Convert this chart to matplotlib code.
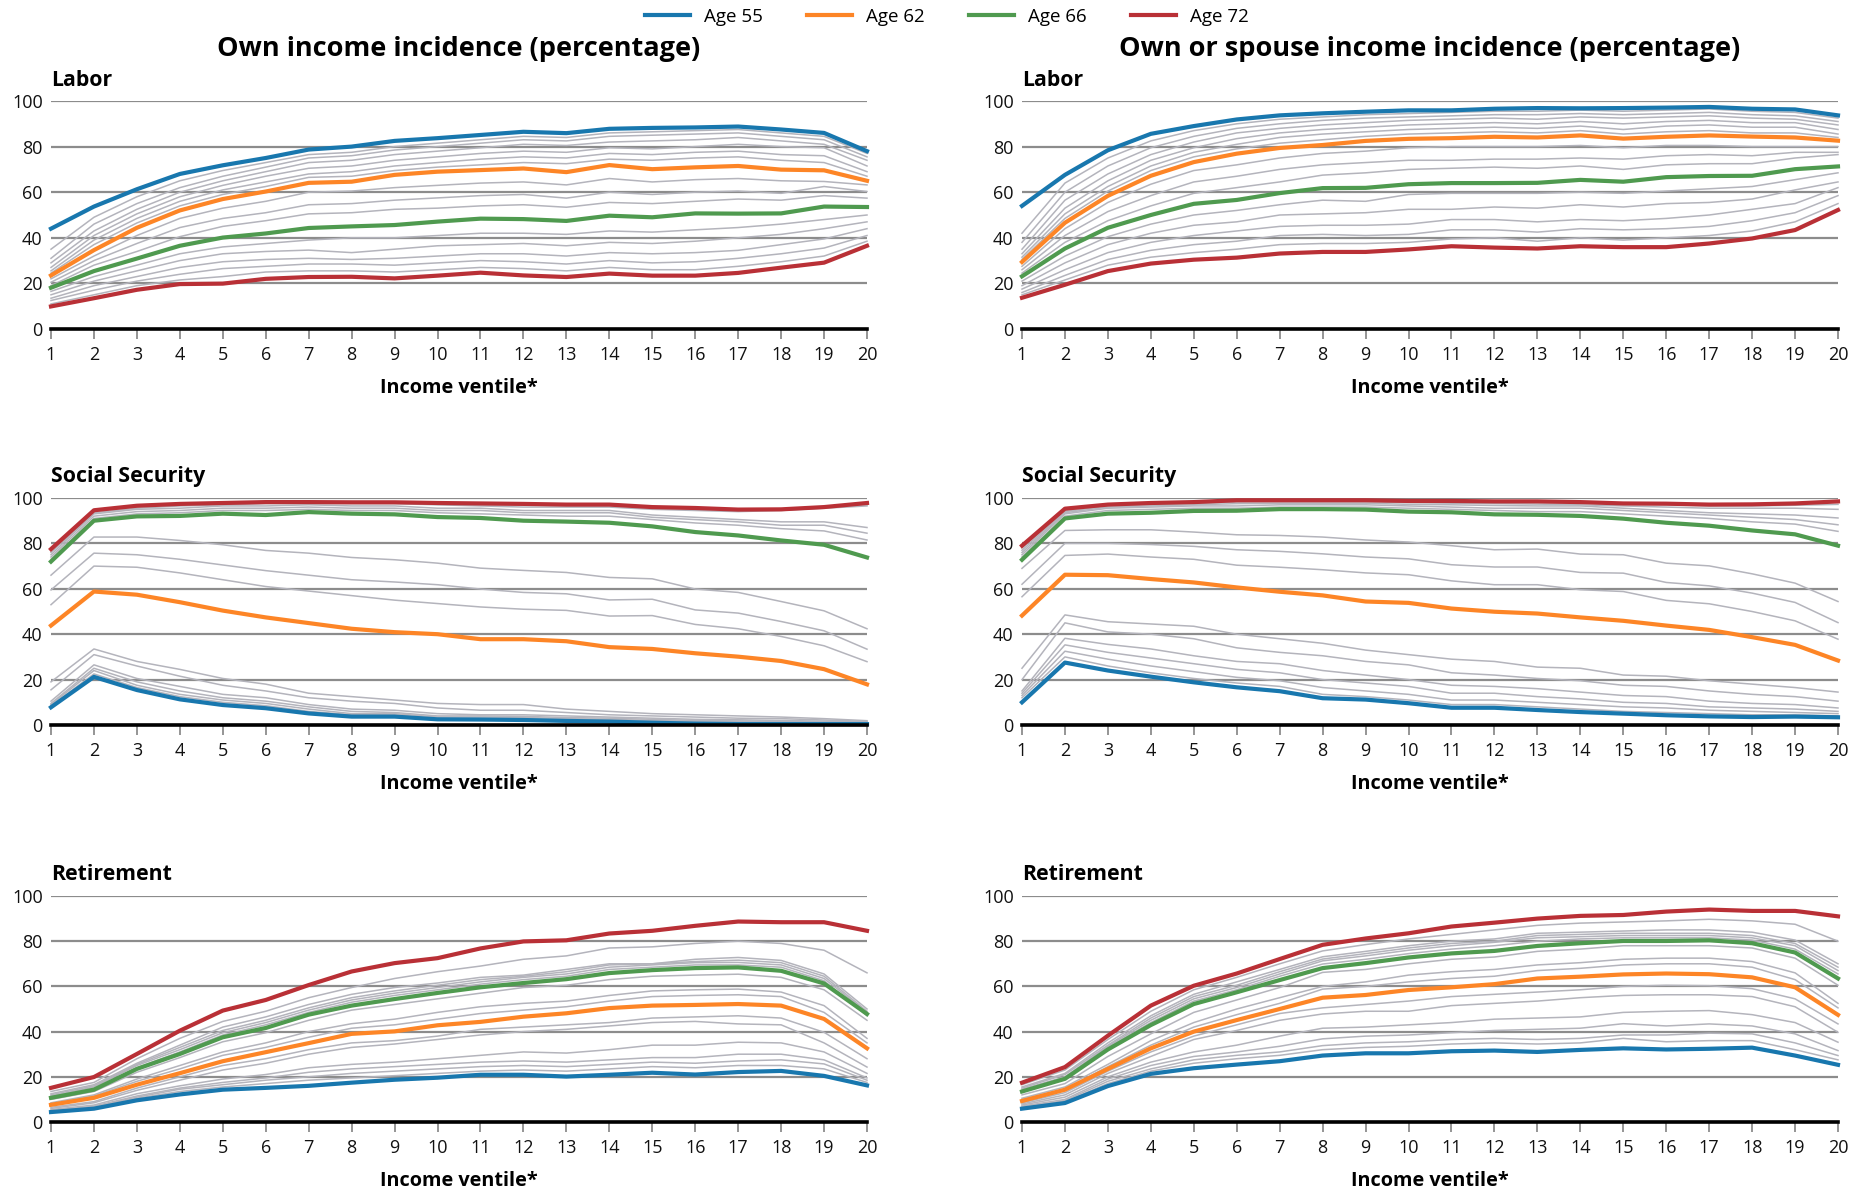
import matplotlib
matplotlib.use("Agg")
import matplotlib.pyplot as plt
from matplotlib.lines import Line2D

plt.rcParams['font.family'] = ['Open Sans', 'DejaVu Sans']

ventiles = list(range(1, 21))
ages = [55, 56, 57, 58, 59, 60, 61, 62, 63, 64, 65, 66, 67, 68, 69, 70, 71, 72]
highlight_ages = [55, 62, 66, 72]
highlight_colors = ['#1877ae', '#fd8526', '#4f9a4f', '#b93036']
gray_color = '#b4b4bc'

col_titles = ['Own income incidence (percentage)', 'Own or spouse income incidence (percentage)']
row_titles = ['Labor', 'Social Security', 'Retirement']
x_label = 'Income ventile*'

# ---- Own income: Labor (rows = ages 55..72) ----
own_labor = [
    [44, 53.7, 61.3, 68, 71.8, 75, 78.7, 80, 82.5, 83.7, 85.1, 86.5, 85.9, 87.8, 88.2, 88.4, 88.8, 87.5, 86, 78],
    [35, 49, 58, 65, 69.5, 73, 76.5, 77.5, 80, 81.5, 83, 84.5, 84, 86, 86.5, 87, 87.5, 86, 84.5, 77],
    [31, 46, 55, 62, 67, 71, 75, 76, 78.5, 80, 81.5, 83, 82.5, 84.5, 85, 85.5, 86, 84.5, 83, 75.5],
    [29, 43, 52.5, 60, 65, 69, 73, 74, 76.5, 78, 79.5, 81, 80.5, 82, 82.5, 83, 84, 82.5, 81, 74],
    [27, 41, 50.5, 58, 63, 67, 70.5, 71.5, 74, 75.5, 77, 78, 77.5, 79.5, 79, 80, 81, 80, 79.5, 71.5],
    [25.5, 39, 48.5, 56, 61, 64.5, 68, 69, 71.5, 73, 74.5, 75.5, 75, 77, 76.5, 77.5, 78, 76.5, 76, 69],
    [24.5, 37, 46.5, 54, 59, 62.5, 66.5, 67, 69.5, 71, 72, 73, 72.5, 74.5, 74, 75, 75.5, 74, 73, 67],
    [23.5, 34.6, 44.4, 52, 57, 60.3, 64.1, 64.6, 67.6, 69, 69.7, 70.4, 68.8, 71.9, 70.1, 70.9, 71.5, 69.9, 69.6, 65],
    [22, 32, 41, 48.5, 53, 56, 60, 60.5, 62, 63, 64, 64.5, 63.2, 66, 64.5, 65.5, 66, 65, 64.7, 63.2],
    [20.5, 30, 37.5, 44.5, 48.5, 51, 54.5, 55, 56.5, 57.5, 58.5, 59, 57.4, 60, 59, 60, 60.5, 59.5, 62.5, 60.3],
    [19, 28, 34, 40.5, 45, 47.5, 50.5, 51, 52.5, 53, 54, 54.5, 53.4, 55.5, 55, 56, 57, 56.5, 58.5, 57.4],
    [18.1, 25.4, 30.9, 36.5, 40.1, 41.9, 44.3, 45, 45.6, 47.1, 48.4, 48.2, 47.4, 49.7, 49, 50.7, 50.6, 50.7, 53.7, 53.5],
    [16.5, 23, 28, 33, 36, 37.5, 39, 40, 40, 41, 42, 42, 41.5, 43, 42.5, 43.5, 44.5, 46, 48, 50],
    [15, 21, 25.5, 30, 33, 34, 34.6, 33.5, 35, 36.5, 37, 37.5, 36.5, 38, 37.5, 38.5, 40, 41.5, 44, 47],
    [13.5, 19, 23, 27, 29.5, 30.5, 31, 30.5, 31, 32, 33, 33, 32, 33.5, 33, 33.5, 34.5, 37, 39.5, 44],
    [12.5, 17, 21, 24, 26.5, 27.5, 28.5, 28.5, 28, 29, 30, 29.5, 28.5, 30, 29, 29.5, 31, 33, 35.5, 41],
    [11, 15, 19, 21.5, 23, 25, 25.5, 25.5, 25, 26, 27, 26.5, 25.5, 27, 26, 26, 27.5, 29.5, 32, 38.5],
    [9.9, 13.5, 17.2, 19.7, 19.9, 22, 22.8, 22.9, 22.2, 23.4, 24.7, 23.5, 22.8, 24.3, 23.4, 23.4, 24.6, 26.9, 29.1, 36.5],
]

# ---- Own or spouse income: Labor ----
spouse_labor = [
    [54, 67.6, 78.4, 85.6, 89, 91.9, 93.7, 94.6, 95.3, 95.9, 95.9, 96.6, 96.9, 96.8, 96.9, 97.1, 97.4, 96.6, 96.3, 93.7],
    [42, 64, 75, 82.5, 87, 90, 92, 93, 94, 94.5, 95, 95.5, 95.5, 96, 95.5, 96, 96.5, 95.5, 95, 92.5],
    [38, 60, 71.5, 79.5, 84.5, 88, 90, 91.5, 92.5, 93, 93.5, 94, 94, 94.5, 94, 94.5, 95, 94, 93.5, 91],
    [35, 56.5, 68, 76.5, 82, 86, 88, 89.5, 90.5, 91.5, 92, 92.5, 92, 93, 92.5, 93, 93.5, 92.5, 92, 89.5],
    [33, 53, 65, 74, 79.5, 83.5, 86, 87.5, 88.5, 89.5, 90, 90.5, 90, 91, 90, 91, 91.5, 90.5, 90.5, 87.5],
    [31.5, 50.5, 62.5, 71.5, 77.5, 81, 84, 85.5, 86.5, 87.5, 88, 88.5, 88, 89, 87.5, 89, 89.5, 88.5, 88.5, 85.5],
    [30.5, 48.5, 60.5, 69.5, 75.5, 79, 81.5, 83, 84.5, 85.5, 86, 86.5, 86, 87, 85.5, 86.5, 87, 86, 86, 84],
    [29.4, 46.6, 58.4, 67.2, 73.2, 76.9, 79.4, 80.7, 82.5, 83.4, 83.7, 84.3, 84, 84.9, 83.5, 84.3, 84.9, 84.4, 84, 82.6],
    [27.5, 44, 55.5, 63.5, 69.5, 72, 75, 77, 78, 79.5, 80, 80, 80, 80.5, 79.5, 80.5, 80.5, 80, 80, 80],
    [26, 41, 51.5, 58.5, 64.5, 67, 70, 72, 73, 74, 74, 74.5, 74.5, 75, 74.5, 76, 76.5, 76, 77.5, 77.5],
    [24.5, 38, 47.5, 54, 59.5, 62, 64.5, 67.5, 68.5, 70, 70.5, 71, 70.5, 71.5, 70, 72, 72.5, 72.5, 75, 76.5],
    [23.1, 35.3, 44.4, 50, 54.9, 56.6, 59.6, 61.8, 61.9, 63.5, 64, 64, 64.1, 65.4, 64.6, 66.6, 67.1, 67.2, 70.1, 71.3],
    [21, 32, 40.5, 46, 50, 52, 54.5, 56.5, 56, 59, 59.5, 59.5, 59.5, 60, 59.5, 60.5, 61.5, 62.5, 65.5, 68.5],
    [19, 29, 37, 42, 45.5, 47, 50, 50.5, 51, 52.5, 52.5, 53.5, 53, 54.5, 53.5, 55, 55.5, 57, 61, 64.5],
    [17.5, 26, 33.5, 38, 41, 43, 45, 45.5, 45.5, 46, 48, 48, 47, 48, 47.5, 48.5, 50, 52.5, 55, 62],
    [16, 23.5, 30.5, 34.5, 37, 38.5, 41, 41.5, 41, 41.5, 43.5, 43.5, 42.5, 44, 43.5, 44, 45, 47.5, 51, 58.5],
    [15, 21.5, 28, 31.5, 33.5, 35, 37, 37.5, 37.5, 38, 39.5, 40, 38.5, 40, 39, 40, 41, 43, 47, 55],
    [13.7, 19.4, 25.4, 28.7, 30.4, 31.3, 33.1, 33.8, 33.8, 34.9, 36.3, 35.7, 35.3, 36.3, 35.9, 35.9, 37.5, 39.7, 43.4, 52.2],
]

# ---- Own income: Social Security ----
own_ss = [
    [7.8, 21.2, 15.4, 11.3, 8.8, 7.4, 5.1, 3.7, 3.7, 2.5, 2.4, 2.2, 1.8, 1.5, 1, 0.6, 0.4, 0.4, 0.4, 0.4],
    [8.5, 22.5, 16.5, 12.5, 10, 8.5, 6, 4.5, 4.5, 3, 3, 2.8, 2.4, 2, 1.5, 1.2, 1, 0.8, 0.7, 0.6],
    [9, 24, 17.5, 13.5, 11, 9.5, 7, 5, 5, 3.5, 3.5, 3.3, 2.8, 2.5, 2, 1.6, 1.4, 1.2, 1, 0.8],
    [9.5, 25, 19, 15, 12, 10.5, 8, 6, 5.5, 4, 4, 3.8, 3.3, 3, 2.5, 2, 1.8, 1.6, 1.3, 1],
    [10.5, 26.5, 20.5, 17, 13.5, 12, 9, 7, 6.5, 5, 4.5, 4.5, 4, 3.5, 3, 2.5, 2.3, 2, 1.7, 1.3],
    [15.5, 31, 26, 21.5, 17.5, 15, 12, 10.5, 9.5, 7.5, 6.5, 6.5, 5.5, 4.5, 4, 3.5, 3, 2.8, 2.2, 1.6],
    [19, 33.5, 28, 24.5, 20.5, 18, 14, 12.5, 11, 9.5, 9, 9, 7, 6, 5, 4.5, 4, 3.5, 2.8, 1.9],
    [43.8, 58.8, 57.4, 54.1, 50.4, 47.4, 44.9, 42.4, 40.9, 40, 37.8, 37.8, 36.9, 34.3, 33.5, 31.6, 30.1, 28.2, 24.6, 17.9],
    [53, 70, 69.5, 67, 64, 61, 59, 57, 55, 53.5, 52, 51, 50.5, 48, 48.2, 44.3, 42.4, 39, 34.9, 27.9],
    [59.5, 75.7, 75, 73, 70.5, 68, 66, 64, 63, 61.8, 59.9, 58.4, 57.8, 55.1, 55.4, 50.7, 49.3, 45.6, 41.5, 33.4],
    [66, 82.8, 82.8, 81.3, 79.4, 76.9, 75.7, 73.8, 72.8, 71.3, 69.1, 68.1, 67.2, 65, 64.4, 59.9, 58.4, 54.4, 50.3, 42.4],
    [72, 90, 91.9, 92.1, 93.1, 92.5, 93.8, 93.1, 92.8, 91.6, 91.2, 90, 89.6, 89.1, 87.5, 85, 83.5, 81.3, 79.4, 73.8],
    [73, 91, 93, 93.5, 94.5, 94.5, 95, 94.5, 94.5, 93.5, 93, 92.5, 92, 92, 90.5, 89, 88, 86.5, 85.5, 81.5],
    [74, 92, 94, 94.5, 95.5, 95.5, 96, 95.5, 95.5, 94.5, 94.5, 93.5, 93.5, 93.5, 91.5, 90.5, 89.5, 88, 88, 84.5],
    [75, 93, 95, 95.5, 96.5, 96.5, 97, 96.5, 96.5, 95.5, 95.5, 94.5, 94.5, 94.5, 92.5, 91.5, 90.5, 89.5, 89.5, 87],
    [76, 93.5, 95.5, 96.5, 97, 97.5, 97.5, 97.5, 97.5, 97, 96.5, 96, 96, 96, 95, 94.5, 94, 94.5, 95.5, 96.5],
    [77, 94, 96, 97, 97.5, 98, 98, 98, 98, 97.5, 97, 97, 96.5, 96.5, 95.5, 95, 94.5, 95, 96, 97],
    [77.5, 94.6, 96.6, 97.4, 97.8, 98.2, 98.2, 98.1, 98.1, 97.8, 97.6, 97.4, 97.1, 97.1, 96, 95.6, 94.9, 95, 96, 97.8],
]

# ---- Own or spouse income: Social Security ----
spouse_ss = [
    [10, 27.5, 24, 21.3, 18.8, 16.6, 14.9, 11.8, 11.2, 9.6, 7.6, 7.6, 6.6, 5.7, 5, 4.3, 3.8, 3.5, 3.7, 3.4],
    [12, 30, 26, 23, 20.5, 18.5, 17, 13.5, 12.5, 11, 9, 9, 8, 7, 6, 5.5, 5, 4.5, 4.5, 4],
    [13, 32.5, 29, 26, 23.5, 21, 19.5, 16.5, 15, 13.5, 11, 11, 10, 9, 8, 7.5, 6.5, 6, 5.5, 5],
    [14, 35.3, 32, 29.5, 27, 24.5, 23, 20, 18.5, 17, 14, 14, 12.5, 11.5, 10, 9.5, 8, 7.5, 7, 6],
    [15, 38.2, 35.5, 33.5, 30.5, 28, 27, 24, 22, 20, 17.5, 17, 16, 14.5, 13, 12.5, 10.5, 9.5, 9, 7.5],
    [20, 45, 41, 40, 38, 34, 32, 30.5, 28, 26.5, 23, 22, 20.5, 19.5, 17.5, 17, 15, 13.5, 12.5, 10.5],
    [25, 48.5, 45.5, 44.5, 43.5, 40, 38, 36, 33, 31, 29, 28, 25.5, 25, 22, 21.5, 19.5, 18, 16.5, 14.5],
    [48.2, 66.2, 66, 64.3, 62.8, 60.6, 58.7, 57.1, 54.4, 53.8, 51.3, 49.9, 49.1, 47.4, 45.9, 43.8, 41.9, 38.7, 35.3, 28.4],
    [56.5, 74.7, 75.3, 74, 73, 70.4, 69.5, 68.4, 67, 66.2, 63.5, 61.8, 61.8, 59.6, 58.8, 54.9, 53.4, 50, 45.9, 37.8],
    [62, 80, 80, 79.5, 78.7, 77.2, 76.5, 75.4, 74, 73.2, 70.6, 69.6, 69.6, 67.2, 66.9, 62.8, 61.3, 58.1, 54, 45.1],
    [69, 85.7, 86, 86, 85, 83.8, 83.5, 82.8, 81.5, 80.6, 79, 77.2, 77.5, 75.3, 75, 71.3, 70.1, 66.6, 62.5, 54.4],
    [72.8, 91, 93.1, 93.5, 94.3, 94.4, 95.1, 95.1, 94.9, 94, 93.7, 92.8, 92.6, 92.1, 90.9, 89.1, 87.8, 85.7, 84, 79],
    [74, 92, 94.5, 95, 95.5, 95.5, 96, 96, 96, 95.5, 95, 94.5, 94, 94, 93, 92, 91, 89.5, 88.5, 85.3],
    [75, 93, 95.5, 96, 96.5, 96.5, 97, 97, 97, 96.5, 96, 95.5, 95.5, 95.5, 94.5, 93.5, 92.5, 91.5, 90.5, 88.2],
    [76, 93.5, 96, 96.5, 97, 97.5, 97.7, 97.7, 97.7, 97.2, 97, 96.7, 96.5, 96.5, 95.5, 94.5, 93.5, 93, 92.5, 91.2],
    [77, 94, 96.5, 97, 97.5, 98.2, 98.3, 98.3, 98.3, 98, 97.7, 97.5, 97.3, 97, 96.5, 96, 95.5, 95.5, 95.5, 95],
    [78, 94.5, 96.8, 97.5, 98, 98.6, 98.7, 98.7, 98.7, 98.4, 98.2, 98, 98, 97.7, 97.2, 97, 96.5, 96.5, 96.8, 97.2],
    [79, 95.3, 97.1, 97.8, 98.2, 99, 99, 99, 99, 98.7, 98.7, 98.5, 98.5, 98.2, 97.6, 97.5, 97.1, 97.2, 97.6, 98.5],
]

# ---- Own income: Retirement ----
own_ret = [
    [4.4, 5.9, 9.6, 12.2, 14.3, 15.1, 16, 17.4, 18.7, 19.6, 20.9, 20.9, 20.1, 20.9, 21.8, 21, 22.1, 22.6, 20.4, 16.2],
    [4.6, 6.3, 10.5, 13.5, 15.5, 17, 18.5, 19.5, 20.5, 21.5, 22.5, 23, 22.5, 23.5, 24.5, 24, 25, 25, 23.5, 17.5],
    [4.8, 6.6, 11, 14.5, 16.5, 18.5, 20, 21.5, 22.5, 23.5, 24.5, 25, 24.5, 25.5, 26.5, 26, 27, 27.5, 25.7, 18.5],
    [5, 7, 11.5, 15, 17.5, 19.5, 22, 23.5, 24.5, 25.5, 26.5, 27, 26.5, 27.5, 28.5, 28.5, 30, 30, 27.5, 19.5],
    [5.5, 7.5, 12.5, 16, 19, 21, 24, 25.5, 26.5, 28, 29.5, 31, 30.5, 32, 34, 34, 35.3, 35, 31, 21.5],
    [6, 8.5, 14, 18.5, 23, 26, 30, 33, 34.5, 36.5, 38.5, 40, 41, 42.5, 44, 44.5, 43.4, 43, 35, 24.3],
    [6.5, 9, 15, 20, 25, 28, 32, 35, 36, 38, 41, 42, 43, 44, 46, 46.5, 47, 46, 39.7, 28],
    [7.6, 10.7, 16.5, 21.6, 26.9, 30.9, 34.9, 39, 40.1, 42.8, 44.3, 46.6, 48.1, 50.4, 51.5, 51.8, 52.2, 51.5, 45.6, 32.6],
    [8, 11.5, 18, 23.5, 29.5, 33, 37.5, 41.5, 43, 45.5, 48, 49.5, 51, 53.5, 55.5, 56, 56.3, 55.5, 48.5, 35],
    [8.5, 12, 19, 25, 31, 35, 40, 43.5, 45.5, 48.5, 51, 52.5, 53.5, 56, 58, 58.5, 58.8, 57.5, 51.5, 37],
    [10, 13.5, 22, 28.5, 35.5, 39.5, 45, 49.5, 52, 54.5, 57, 59.5, 60.5, 63, 64.5, 65, 65.4, 64, 58.5, 45],
    [10.7, 14.3, 23.5, 30.1, 37.5, 41.6, 47.5, 51.5, 54.4, 57.1, 59.6, 61.5, 63.2, 65.9, 67.2, 68.1, 68.4, 66.9, 61.3, 47.8],
    [11, 15, 24, 31, 38.5, 43, 48.5, 53, 56, 58.5, 61, 63, 64.5, 67.5, 68.5, 69.5, 69.5, 68.5, 62.5, 47],
    [11.5, 15.5, 25, 32, 39.5, 44, 49.5, 54, 57, 59.5, 62, 64, 65.5, 68.5, 69.5, 70.5, 70.6, 69.5, 63.5, 48.5],
    [12, 16, 25.5, 33, 40.5, 45, 50.5, 55, 58, 60.5, 63, 64.5, 66.5, 69.5, 70, 71, 71.6, 70.5, 64.5, 49],
    [12.5, 16.5, 26, 34, 42, 46.5, 52, 56.5, 59.5, 61.5, 64, 65, 67.5, 70, 70, 72, 72.8, 71.5, 65.5, 50],
    [13.5, 17.5, 28, 37, 44.5, 49, 55, 59.5, 63.5, 66.5, 69, 72, 73.5, 77, 77.5, 79, 80, 79, 76, 66],
    [15.1, 19.9, 30.1, 40.4, 49.3, 54, 60.6, 66.6, 70.3, 72.5, 76.8, 79.9, 80.4, 83.4, 84.6, 86.8, 88.7, 88.4, 88.4, 84.6],
]

# ---- Own or spouse income: Retirement ----
spouse_ret = [
    [5.9, 8.4, 15.9, 21.3, 23.8, 25.4, 26.9, 29.4, 30.4, 30.4, 31.3, 31.6, 31, 31.9, 32.6, 32.1, 32.4, 32.9, 29.4, 25.3],
    [6.2, 9, 17, 22.5, 26, 28, 29.5, 32, 33, 33.5, 34.5, 35, 34.5, 35, 37, 35.5, 36, 36, 32, 27.5],
    [6.5, 9.5, 18, 23.5, 27.5, 29.5, 31, 33.8, 35, 35.5, 36.5, 37, 36.5, 37, 38.5, 38.5, 39.3, 39, 35, 29.4],
    [7, 10, 19, 25, 29, 31, 33.5, 36.8, 38, 38.5, 39.5, 40.5, 41, 41.5, 43.5, 42.5, 43.4, 42.5, 39, 31.6],
    [7.5, 11, 20, 26.5, 31, 34, 38, 41.5, 42, 43, 44, 45.5, 46, 46.5, 48.5, 49, 49.3, 47.5, 44, 35.3],
    [8, 12, 21.5, 29, 36.5, 40.5, 45, 47.8, 49, 49, 51.5, 52.5, 53.5, 55, 56, 56.3, 56.3, 55.5, 51, 39.7],
    [8.5, 13, 22.5, 31, 38, 43, 48, 50.5, 52, 53.5, 55.5, 56.5, 57.5, 58.5, 60, 60.5, 60.3, 59, 54.5, 43.4],
    [9.3, 14.3, 23.5, 32.6, 40, 45.1, 50, 55, 56.2, 58.4, 59.6, 61, 63.5, 64.3, 65.3, 65.7, 65.4, 64, 59.6, 47.4],
    [10, 14.5, 24.5, 34, 42, 47.5, 52.5, 58.8, 60, 62, 63.5, 64.5, 67, 68, 69.5, 70, 70, 68.5, 63, 50.5],
    [10.5, 15.5, 25.5, 36, 44, 50, 55, 60, 62, 65, 66.5, 67.5, 69.5, 70.5, 72, 72.5, 72.5, 71, 66, 52.5],
    [12, 17, 29, 39, 48.5, 54, 59.5, 66.2, 67.5, 70, 72, 73, 75.5, 76.5, 78, 78, 78, 77, 72.5, 60.5],
    [13.5, 19.1, 32.1, 42.9, 52.2, 57.4, 62.8, 68.1, 70.3, 72.8, 74.6, 75.7, 77.9, 79.1, 80.1, 80.1, 80.4, 79.1, 75, 63.5],
    [14, 19.5, 33, 44, 53.5, 58.5, 64.5, 69.9, 72, 74.5, 76.5, 78, 80, 81, 81.5, 81.5, 81.5, 80.5, 76.5, 65.5],
    [14.5, 20, 33.5, 45, 54.5, 59.5, 65.5, 71.3, 73.5, 76, 78, 79.5, 81.5, 82, 82.5, 82.5, 82.5, 81.5, 78, 67],
    [15, 21, 34, 46, 55.5, 60.5, 66.5, 72.1, 74.5, 77, 79, 80, 82.5, 83, 83.5, 83.5, 83.5, 82.5, 79, 68.5],
    [15.5, 21.5, 35, 47, 56.5, 62, 67.5, 73.1, 75.5, 78, 80, 81, 83.5, 84, 84.5, 85, 85, 84, 80.5, 70],
    [16.5, 23, 36.5, 49, 58.5, 64, 70, 75.7, 78.5, 81, 83, 85, 87, 88, 88.5, 89, 89.7, 89, 87.5, 80],
    [17.4, 24.3, 38.2, 51.5, 60.3, 65.7, 72.1, 78.4, 81.2, 83.5, 86.5, 88.2, 90, 91.2, 91.6, 93.1, 94, 93.4, 93.4, 91],
]

panels = [[own_labor, spouse_labor], [own_ss, spouse_ss], [own_ret, spouse_ret]]

W, H = 1870, 1191
fig = plt.figure(figsize=(W / 100, H / 100), dpi=100)

col_x = [51, 1022]
col_w = 816
row_top = [101, 498, 896]
row_bot = [329, 725, 1122]
title_y = [80.5, 476.5, 874.5]

for r in range(3):
    for c in range(2):
        x0 = col_x[c] / W
        y0 = 1 - row_bot[r] / H
        h = (row_bot[r] - row_top[r]) / H
        ax = fig.add_axes([x0, y0, col_w / W, h])
        data = panels[r][c]
        for age, vals in zip(ages, data):
            if age in highlight_ages:
                continue
            ax.plot(ventiles, vals, color=gray_color, lw=1.1, zorder=2, clip_on=False)
        for age, colr in zip(highlight_ages, highlight_colors):
            vals = data[ages.index(age)]
            ax.plot(ventiles, vals, color=colr, lw=3.0, zorder=3, clip_on=False,
                    solid_joinstyle='round')
        ax.set_xlim(1, 20)
        ax.set_ylim(0, 100)
        ax.set_xticks(ventiles)
        ax.set_xticklabels([str(v) for v in ventiles])
        ax.set_yticks([0, 20, 40, 60, 80, 100])
        ax.yaxis.grid(True, color='#8c8c8c', lw=1.6, zorder=1)
        ax.set_axisbelow(True)
        for s in ['left', 'right', 'top']:
            ax.spines[s].set_visible(False)
        ax.spines['bottom'].set_color('black')
        ax.spines['bottom'].set_linewidth(2.6)
        ax.spines['bottom'].set_zorder(4)
        ax.tick_params(axis='y', length=0, pad=6, labelsize=13, labelcolor='#111111')
        ax.tick_params(axis='x', length=7, width=1.3, color='#8c8c8c', pad=5,
                       labelsize=13, labelcolor='#111111')
        ax.set_xlabel(x_label, fontsize=14.3, fontweight='bold', labelpad=10)
        fig.text(col_x[c] / W, 1 - title_y[r] / H, row_titles[r], fontsize=15.3,
                 fontweight='bold', ha='left', va='center')

for c in range(2):
    fig.text((col_x[c] + col_w / 2) / W, 1 - 49.5 / H, col_titles[c], fontsize=19.5,
             fontweight='bold', ha='center', va='center')

handles = [Line2D([0], [0], color=colr, lw=3.0) for colr in highlight_colors]
labels = ['Age %d' % a for a in highlight_ages]
fig.legend(handles, labels, loc='center', bbox_to_anchor=(947 / W, 1 - 17 / H), ncol=4,
           frameon=False, fontsize=13.5, handlelength=2.4, handletextpad=0.75,
           columnspacing=2.35)

fig.savefig('out.png', dpi=100)
